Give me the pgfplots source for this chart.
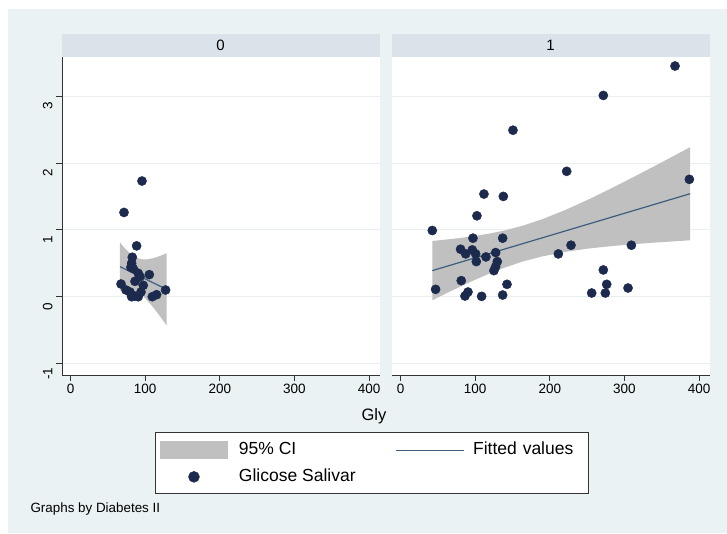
\documentclass[border=0pt]{standalone}
\usepackage{pgfplots}
\pgfplotsset{compat=1.18}
\usepackage{fontspec}
\setmainfont{Liberation Sans}
\definecolor{bgc}{HTML}{EAF2F3}
\definecolor{hdr}{HTML}{D9E3E9}
\definecolor{gridc}{HTML}{E9EFF1}
\definecolor{cic}{HTML}{C0C0C0}
\definecolor{dotc}{HTML}{1B2A4D}
\definecolor{linec}{HTML}{3D5D7E}
\definecolor{axc}{HTML}{333333}
\pgfplotsset{
  pan/.style={
    width=317.5pt, height=318pt, scale only axis, anchor=south west,
    xmin=-11.5, xmax=414, ymin=-1.171, ymax=3.585,
    xtick={0,100,200,300,400}, ytick={-1,0,1,2,3},
    axis background/.style={fill=white},
    axis x line*=bottom, axis y line*=left,
    tick align=outside, major tick length=6pt,
    ymajorgrids, grid style={gridc, line width=0.8pt},
    axis line style={axc, line width=0.8pt},
    tick style={axc, line width=0.8pt},
    ticklabel style={font=\fontsize{13.5}{16}\selectfont},
    /pgf/number format/assume math mode=true,
  },
  dots/.style={only marks, mark=*, mark size=4.6pt, mark options={fill=dotc, draw=dotc}},
  fit/.style={linec, line width=1.2pt},
  band/.style={fill=cic, draw=none},
}
\begin{document}
\begin{tikzpicture}
\path[use as bounding box] (0pt,0pt) rectangle (727pt,534pt);
\fill[white] (0pt,0pt) rectangle (727pt,534pt);
\fill[bgc] (8pt,1pt) rectangle (727pt,525pt);
\fill[hdr] (61.7pt,477.3pt) rectangle (379.5pt,499.7pt);
\fill[hdr] (391.7pt,477.3pt) rectangle (709.5pt,499.7pt);
\node[font=\fontsize{15}{18}\selectfont] at (220.5pt,488.5pt) {0};
\node[font=\fontsize{15}{18}\selectfont] at (550.5pt,488.5pt) {1};

\begin{axis}[pan, at={(62pt,159pt)},
  yticklabel style={rotate=90, anchor=south, xshift=-10pt},
  legend style={at={(0.975,-0.179)}, anchor=north, draw=axc, fill=white,
    inner xsep=5pt, inner ysep=9pt, font=\fontsize{17.5}{20}\selectfont,
    nodes={inner sep=0pt, text height=12pt, text depth=3.5pt},
    row sep=10pt,
    /tikz/column 1/.style={column sep=11pt},
    /tikz/column 2/.style={column sep=39.3pt},
    /tikz/column 3/.style={column sep=9pt},
    /tikz/column 4/.style={nodes={text width=110pt, align=left}}},
  legend columns=2, legend cell align=left]
\addplot[band, legend image code/.code={\fill[cic] (0pt,-9pt) rectangle (68pt,9pt);}] coordinates {
 (66.2,0.810) (70,0.759) (75,0.698) (80,0.645) (85,0.604) (88,0.586) (92,0.568) (97,0.558)
 (103,0.559) (110,0.574) (116,0.594) (122,0.619) (128.7,0.650)
 (128.7,-0.430) (122,-0.325) (116,-0.236) (110,-0.150) (103,-0.059) (97,0.008) (92,0.052)
 (88,0.078) (85,0.092) (80,0.104) (75,0.106) (70,0.099) (66.2,0.090)} -- cycle;
\addlegendentry{95\% CI}
\addplot[fit, legend image code/.code={\draw[linec, line width=1.2pt] (0pt,0pt) -- (68pt,0pt);}] coordinates {(66.2,0.45) (128.7,0.11)};
\addlegendentry{Fitted values}
\addplot[dots, legend image code/.code={\path[draw=none] (0pt,0pt) -- (68pt,0pt); \fill[dotc] (34pt,0pt) circle (5.5pt);}] coordinates {
 (95.7,1.73) (71.6,1.26) (88.5,0.76) (82.7,0.59) (81.8,0.50) (84.0,0.42) (80.8,0.44)
 (90.7,0.35) (93.0,0.30) (105.5,0.33) (67.6,0.19) (86.3,0.23) (97.4,0.17) (74.3,0.10)
 (79.6,0.07) (94.3,0.07) (81.8,0.00) (86.0,0.01) (90.7,0.00) (109.5,0.00) (115.3,0.03) (127.3,0.10)};
\addlegendentry{Glicose Salivar}
\end{axis}

\begin{axis}[pan, at={(392pt,159pt)},
  y axis line style={draw=none}, ytick style={draw=none}, yticklabels={}]
\addplot[band, forget plot] coordinates {
 (42.5,0.833) (60,0.853) (80,0.878) (100,0.908) (120,0.946) (140,0.992) (165,1.066) (190,1.159)
 (220,1.293) (250,1.444) (280,1.607) (310,1.777) (340,1.951) (365,2.099) (388,2.236)
 (388,0.844) (365,0.827) (340,0.809) (310,0.784) (280,0.754) (250,0.718) (220,0.669) (190,0.603)
 (165,0.530) (140,0.437) (120,0.350) (100,0.254) (80,0.151) (60,0.044) (42.5,-0.053)} -- cycle;
\addplot[fit, forget plot] coordinates {(42.5,0.39) (388,1.54)};
\addplot[dots, forget plot] coordinates {
 (367.8,3.45) (271.7,3.01) (150.6,2.49) (222.6,1.875) (387,1.755) (111.7,1.535) (137.7,1.50)
 (102.3,1.21) (42.5,0.99) (97,0.875) (136.8,0.875) (228.4,0.77) (309.3,0.77) (80.4,0.71)
 (96.1,0.70) (87.2,0.64) (100.6,0.64) (211.4,0.64) (114.4,0.595) (127.4,0.66) (101.5,0.525)
 (129.6,0.525) (127.4,0.45) (125.1,0.39) (271.7,0.40) (81.3,0.24) (142.6,0.185) (276.2,0.185)
 (46.9,0.11) (304.8,0.13) (90.3,0.07) (86.3,0.01) (108.6,0.005) (136.8,0.025) (256.1,0.055) (274.4,0.055)};
\end{axis}

\node[font=\fontsize{16.5}{20}\selectfont, anchor=base] at (374pt,113.7pt) {Gly};
\node[font=\fontsize{13.4}{16}\selectfont, anchor=base west] at (27pt,21pt) {Graphs by Diabetes II};
\end{tikzpicture}
\end{document}
